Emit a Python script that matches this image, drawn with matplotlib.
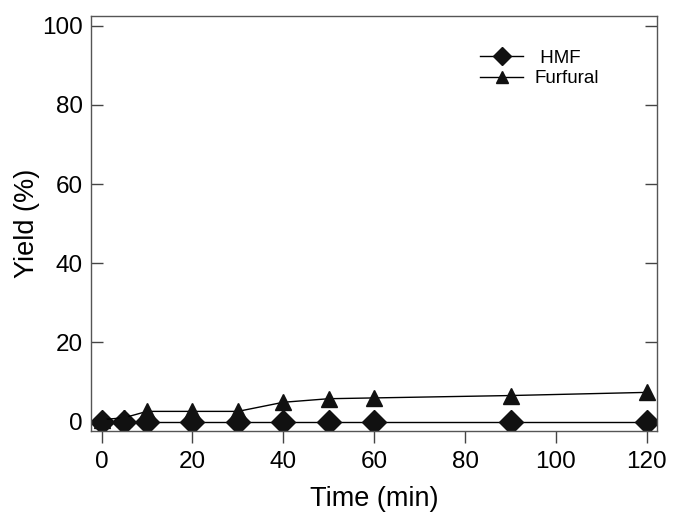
import numpy as np
import matplotlib.pyplot as plt

plt.rcParams['font.family'] = ['Liberation Sans', 'DejaVu Sans']

time = np.array([0, 5, 10, 20, 30, 40, 50, 60, 90, 120])
hmf = np.array([0, 0, 0, 0, 0, 0, 0, 0, 0, 0])
furfural = np.array([0.5, 1.0, 2.6, 2.6, 2.6, 4.9, 5.8, 6.0, 6.6, 7.4])

fig = plt.figure(figsize=(6.73, 5.14), dpi=100)
ax = fig.add_axes([0.135, 0.1615, 0.841, 0.8075])

ax.plot(time, hmf, color='black', lw=1, marker='D', ms=12.5,
        mfc='#111111', mec='#111111', label=' HMF')
ax.plot(time, furfural, color='black', lw=1, marker='^', ms=12,
        mfc='#111111', mec='#111111', label='Furfural')

ax.set_xlim(-2.35, 122.2)
ax.set_ylim(-2.35, 102.45)
ax.set_xticks([0, 20, 40, 60, 80, 100, 120])
ax.set_yticks([0, 20, 40, 60, 80, 100])

for s in ax.spines.values():
    s.set_color('#555555')
    s.set_linewidth(1)

ax.tick_params(axis='x', direction='out', length=8.5, width=1, color='#444444',
               labelsize=17.5, pad=6)
ax.tick_params(axis='y', direction='in', length=8.5, width=1, color='#444444',
               labelsize=17.5, right=True, pad=6)

ax.set_xlabel('Time (min)', fontsize=19.5, labelpad=9)
ax.set_ylabel('Yield (%)', fontsize=19.5, labelpad=1)

ax.legend(loc='upper right', bbox_to_anchor=(0.928, 0.96), frameon=False,
          fontsize=13.5, handlelength=2.3, handletextpad=0.6, labelspacing=0.2,
          markerscale=0.75)

fig.savefig('out.png', dpi=100)
